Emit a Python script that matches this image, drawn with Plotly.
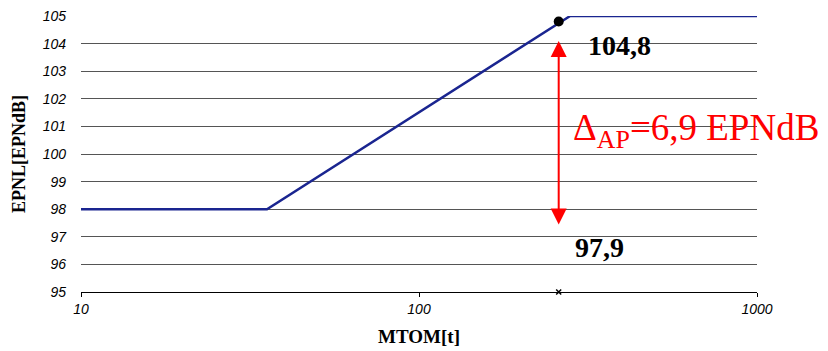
import math
import plotly.graph_objects as go

# data
mtom = [10, 35.5, 280, 1000]
epnl = [98, 98, 105, 105]
point_x = [259]
point_y = [104.8]
marker_x = [259]
marker_y = [95]
arrow_top = 104.15
arrow_bottom = 97.45
label_hi = "104,8"
label_lo = "97,9"
label_lo_value = 97.9
delta_label = "Δ<sub>AP</sub>=6,9 EPNdB"
delta_y = 100.85
y_ticks = list(range(95, 106))
x_ticks = [10, 100, 1000]

fig = go.Figure()
fig.add_trace(go.Scatter(x=mtom, y=epnl, mode="lines",
                         line=dict(color="#1a2590", width=2.5), showlegend=False))
fig.add_trace(go.Scatter(x=point_x, y=point_y, mode="markers",
                         marker=dict(color="black", size=10), showlegend=False))
fig.add_trace(go.Scatter(x=marker_x, y=marker_y, mode="markers",
                         marker=dict(color="black", size=5, symbol="x-thin",
                                     line=dict(width=1.5, color="black")),
                         showlegend=False, cliponaxis=False))

ax_x = math.log10(point_x[0])
fig.add_annotation(x=ax_x, y=arrow_bottom, ax=ax_x, ay=arrow_top,
                   xref="x", yref="y", axref="x", ayref="y",
                   text="", showarrow=True, arrowhead=2, arrowsize=1.6,
                   startarrowhead=2, startarrowsize=1.6, arrowside="end+start",
                   arrowwidth=2, arrowcolor="red")

fig.add_annotation(x=ax_x, y=point_y[0], xref="x", yref="y", text=label_hi,
                   showarrow=False, xanchor="left", yanchor="middle", xshift=27, yshift=-24,
                   font=dict(family="Liberation Serif", size=28, color="black", weight="bold"))
fig.add_annotation(x=ax_x, y=label_lo_value, xref="x", yref="y", text=label_lo,
                   showarrow=False, xanchor="left", yanchor="middle", xshift=14, yshift=-36,
                   font=dict(family="Liberation Serif", size=28, color="black", weight="bold"))
fig.add_annotation(x=ax_x, y=delta_y, xref="x", yref="y", text=delta_label,
                   showarrow=False, xanchor="left", yanchor="middle", xshift=12,
                   font=dict(family="Liberation Serif", size=37, color="red"))

fig.update_layout(
    width=820, height=343,
    margin=dict(l=73, r=71, t=8, b=59, autoexpand=False),
    paper_bgcolor="white", plot_bgcolor="white",
    xaxis=dict(type="log", range=[1, 3], tickvals=x_ticks, ticktext=[str(v) for v in x_ticks],
               showgrid=False, showline=True, linecolor="black", linewidth=1,
               ticks="outside", ticklen=4, tickcolor="black", ticklabeloverflow="allow",
               automargin=False,
               tickfont=dict(family="Liberation Sans", size=14, color="black", style="italic"),
               title=dict(text="MTOM[t]", standoff=13,
                          font=dict(family="Liberation Serif", size=19, color="black", weight="bold")),
               zeroline=False),
    yaxis=dict(range=[95, 105], tickvals=y_ticks, showgrid=True, gridcolor="#555555", gridwidth=1,
               showline=False, zeroline=False, ticks="", ticklabelstandoff=14,
               ticklabeloverflow="allow", automargin=False,
               tickfont=dict(family="Liberation Sans", size=14, color="black", style="italic"),
               title=dict(text="EPNL[EPNdB]", standoff=12,
                          font=dict(family="Liberation Serif", size=18, color="black", weight="bold"))),
)

fig.write_html("out.html")
